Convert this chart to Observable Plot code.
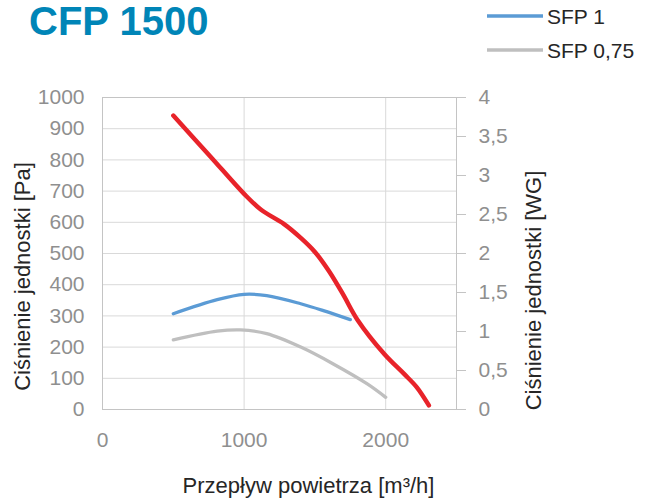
<!DOCTYPE html>
<html>
<head>
<meta charset="utf-8">
<script src="https://cdn.jsdelivr.net/npm/d3@7"></script>
<script src="https://cdn.jsdelivr.net/npm/@observablehq/plot@0.6"></script>
<style>
  html, body { margin: 0; padding: 0; background: #fff; }
  body { width: 645px; height: 503px; overflow: hidden; font-family: "Liberation Sans", Arial, sans-serif; }
  #header { display: block; }
</style>
</head>
<body>
<svg id="header" width="645" height="70" xmlns="http://www.w3.org/2000/svg" font-family="Liberation Sans, Arial, sans-serif">
  <text x="29" y="35" font-size="40" font-weight="bold" fill="#0085b7">CFP 1500</text>
  <line x1="487" y1="16" x2="543" y2="16" stroke="#5b9bd5" stroke-width="3.5"/>
  <text x="547" y="23.5" font-size="21" fill="#262626">SFP 1</text>
  <line x1="487" y1="50" x2="543" y2="50" stroke="#bfbfbf" stroke-width="3.5"/>
  <text x="547" y="58" font-size="21" fill="#262626">SFP 0,75</text>
</svg>
<div id="chart"></div>
<script>
// Fan curve (Pa vs m3/h)
const fanX = [500, 760, 1000, 1120, 1280, 1400, 1500, 1600, 1700, 1800, 1990, 2130, 2220, 2305];
const fanY = [942, 812, 691, 640, 595, 550, 505, 443, 368, 288, 178, 114, 71, 13];
// SFP 1 curve
const sfp1X = [500, 810, 1000, 1160, 1400, 1560, 1750];
const sfp1Y = [307, 352, 369, 365, 339, 317, 288];
// SFP 0,75 curve
const sfp075X = [500, 810, 975, 1160, 1400, 1630, 1870, 2000];
const sfp075Y = [223, 251, 255, 243, 200, 146, 82, 39];

const xTicks = [0, 1000, 2000];
const yTicksPa = [0, 100, 200, 300, 400, 500, 600, 700, 800, 900, 1000];
const yTicksWG = [0, 0.5, 1, 1.5, 2, 2.5, 3, 3.5, 4];
const paPerWG = 250;

const xTitle = "Przepływ powietrza [m³/h]";
const yTitleLeft = "Ciśnienie jednostki [Pa]";
const yTitleRight = "Ciśnienie jednostki [WG]";

const fan = fanX.map((x, i) => ({x, y: fanY[i]}));
const s1 = sfp1X.map((x, i) => ({x, y: sfp1Y[i]}));
const s075 = sfp075X.map((x, i) => ({x, y: sfp075Y[i]}));

const tickColor = "#8f8f8f";
const titleColor = "#262626";

const chart = Plot.plot({
  width: 645,
  height: 433,
  marginTop: 27,
  marginBottom: 94,
  marginLeft: 102,
  marginRight: 189,
  style: {fontFamily: "Liberation Sans, Arial, sans-serif", background: "#fff", overflow: "visible"},
  x: {domain: [0, 2500]},
  y: {domain: [0, 1000]},
  marks: [
    Plot.gridY(yTicksPa.filter(d => d > 0 && d < 1000), {stroke: "#d9d9d9", strokeOpacity: 1}),
    Plot.gridX(xTicks.filter(d => d > 0), {stroke: "#d9d9d9", strokeOpacity: 1}),
    Plot.frame({stroke: "#c4c4c4"}),
    Plot.axisX({ticks: xTicks, tickSize: 0, tickPadding: 23, fontSize: 21, fill: tickColor, label: null, tickFormat: d => String(d)}),
    Plot.axisY({ticks: yTicksPa, anchor: "left", tickSize: 0, tickPadding: 18, fontSize: 21, fill: tickColor, label: null, tickFormat: d => String(d)}),
    Plot.axisY({ticks: yTicksWG.map(d => d * paPerWG), anchor: "right", tickSize: 9, tickPadding: 13, fontSize: 21,
      stroke: "#c4c4c4", fill: tickColor, label: null,
      tickFormat: d => String(d / paPerWG).replace(".", ",")}),
    Plot.line(s075, {x: "x", y: "y", stroke: "#bfbfbf", strokeWidth: 3.3, curve: "catmull-rom"}),
    Plot.line(s1, {x: "x", y: "y", stroke: "#5b9bd5", strokeWidth: 3.3, curve: "catmull-rom"}),
    Plot.line(fan, {x: "x", y: "y", stroke: "#e8232a", strokeWidth: 4.5, curve: "catmull-rom"}),
    Plot.text([xTitle], {frameAnchor: "bottom", text: d => d, textAnchor: "middle", dx: 29, dy: 76, lineAnchor: "middle", fontSize: 22, fill: titleColor}),
    Plot.text([yTitleLeft], {frameAnchor: "left", text: d => d, textAnchor: "middle", lineAnchor: "middle", rotate: -90, dx: -80, dy: 23, fontSize: 22, fill: titleColor}),
    Plot.text([yTitleRight], {frameAnchor: "right", text: d => d, textAnchor: "middle", lineAnchor: "middle", rotate: -90, dx: 77, dy: 37, fontSize: 22, fill: titleColor})
  ]
});
document.getElementById("chart").appendChild(chart);
</script>
</body>
</html>
